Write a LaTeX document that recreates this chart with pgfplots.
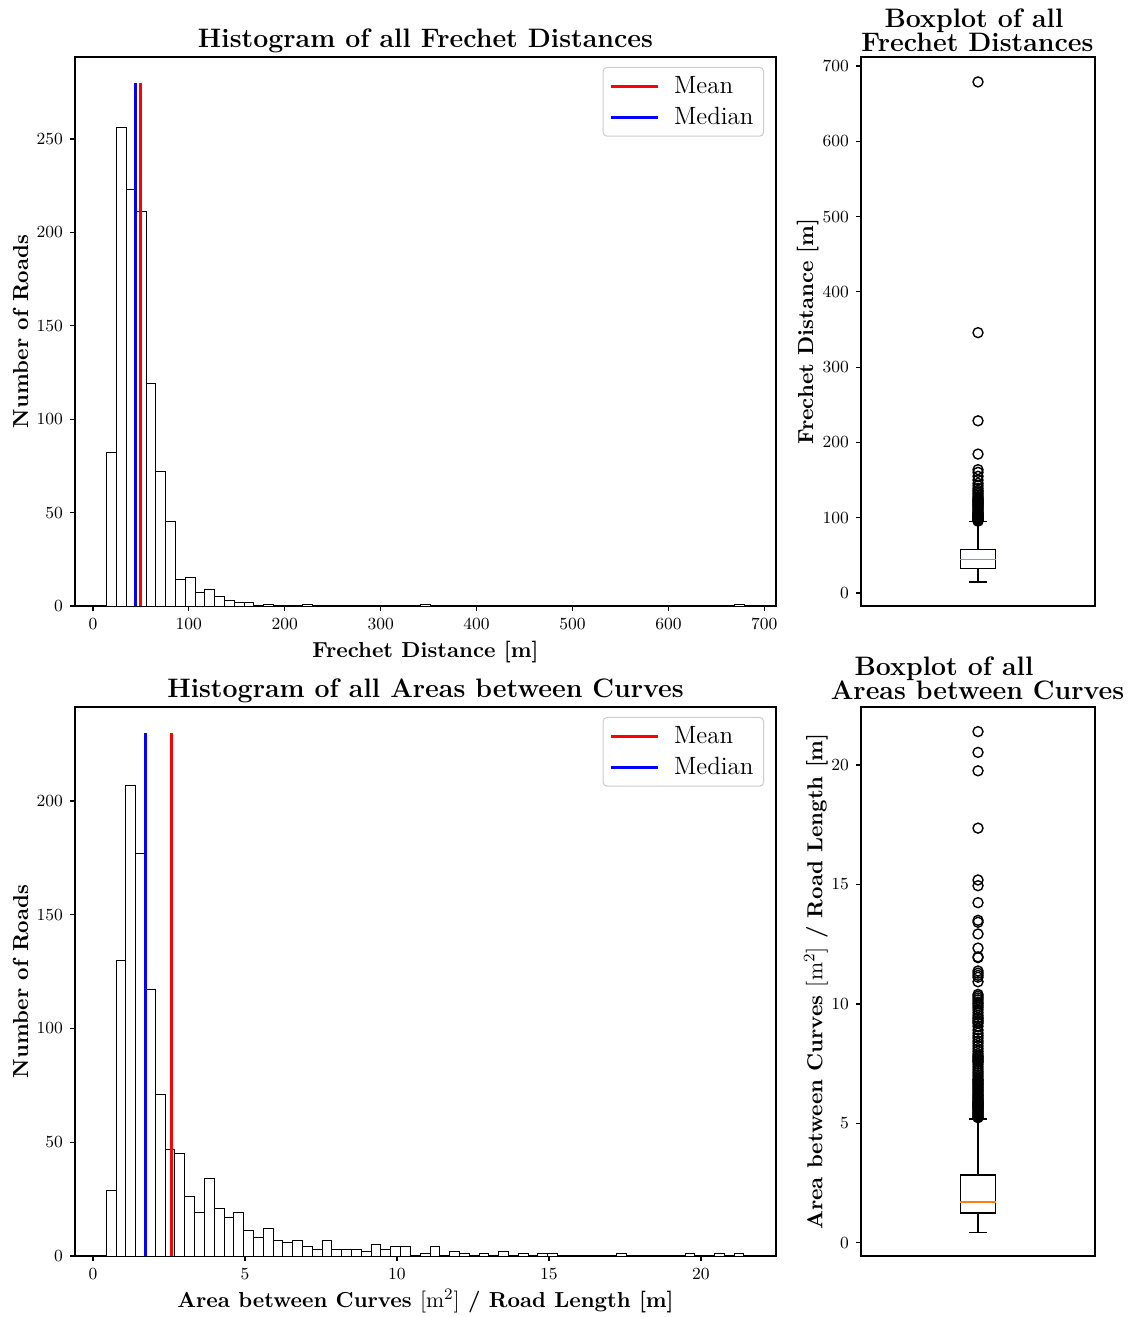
\documentclass[border=0pt]{standalone}
\usepackage{fontspec}
\usepackage{pgfplots}
\pgfplotsset{compat=1.18}
\definecolor{mplorange}{HTML}{FF7F0E}
\definecolor{legendgray}{HTML}{CCCCCC}
\newcommand{\tickfont}{\fontsize{8.5}{10}\selectfont}
\newcommand{\labelfont}{\fontsize{10.85}{13}\selectfont\bfseries}
\newcommand{\titlefont}{\fontsize{13.35}{16}\selectfont\bfseries}
\newcommand{\legfont}{\fontsize{12.5}{15}\selectfont}
\pgfplotsset{
  common/.style={
    scale only axis,
    anchor=south west,
    axis line style={line width=0.6pt},
    tick style={black, line width=0.6pt},
    tick align=outside,
    major tick length=2.5pt,
    xtick pos=left, ytick pos=left,
    tick label style={font=\tickfont},
    /pgf/number format/assume math mode=true,
    label style={font=\labelfont},
  },
  histleg/.style={
    legend style={at={(0.983,0.982)}, anchor=north east, draw=legendgray,
      rounded corners=2pt, line width=0.5pt, font=\legfont,
      inner xsep=3pt, inner ysep=2.5pt, row sep=1.2pt,
      /tikz/every odd column/.append style={column sep=5.5pt}},
    legend cell align=left,
    legend image code/.code={\draw[##1] (0pt,0pt) -- (23.5pt,0pt);},
  },
  boxline/.style={black, line width=0.75pt, forget plot},
  outl/.style={only marks, mark=o, mark size=2.5pt, mark options={black, line width=0.7pt}, forget plot},
}
\begin{document}
\begin{tikzpicture}
\path[use as bounding box] (0,0) rectangle (564.5pt,-658.5pt);

% ---------- Top-left histogram ----------
\begin{axis}[common, histleg, at={(37.5pt,-303pt)}, width=350.5pt, height=274.5pt,
  xmin=-18.7, xmax=712.2, ymin=0, ymax=293.9,
  xtick={0,100,...,700}, ytick={0,50,...,250},
  xlabel={Frechet Distance [m]}, ylabel={Number of Roads},
  xlabel style={at={(axis description cs:0.5,0)}, anchor=base, yshift=-25.5pt},
  ylabel style={at={(axis description cs:-0.067,0.5)}, anchor=base}]
\addplot[ybar, bar width=10.22, bar shift=0pt, draw=black, fill=white, line width=0.5pt, forget plot]
 coordinates {(19.71,82) (29.93,256) (40.15,223) (50.37,211) (60.59,119) (70.81,72) (81.03,45)
 (91.25,14) (101.47,15) (111.69,7) (121.91,9) (132.13,5) (142.35,3) (152.57,2) (162.79,2)
 (183.23,1) (224.11,1) (346.75,1) (673.79,1)};
\addplot[red, line width=1.5pt] coordinates {(49.4,0) (49.4,280)};
\addlegendentry{Mean}
\addplot[blue, line width=1.5pt] coordinates {(44.2,0) (44.2,280)};
\addlegendentry{Median}
\end{axis}

% ---------- Top-right boxplot ----------
\begin{axis}[common, at={(430.5pt,-303pt)}, width=117pt, height=274.5pt,
  xmin=0.5, xmax=1.5, ymin=-17.3, ymax=711.9, xtick=\empty, ytick={0,100,...,700},
  ylabel={Frechet Distance [m]},
  ylabel style={at={(axis description cs:-0.205,0.5)}, anchor=base}]
% box
\addplot[boxline] coordinates {(0.925,32.5) (1.075,32.5) (1.075,57.6) (0.925,57.6) (0.925,32.5)};
% median
\addplot[mplorange, line width=0.75pt, forget plot] coordinates {(0.925,44.3) (1.075,44.3)};
% whiskers
\addplot[boxline] coordinates {(1,32.5) (1,14.3)};
\addplot[boxline] coordinates {(1,57.6) (1,95.1)};
% caps
\addplot[boxline] coordinates {(0.9625,14.3) (1.0375,14.3)};
\addplot[boxline] coordinates {(0.9625,95.1) (1.0375,95.1)};
% outliers
\addplot[outl]
 coordinates {(1,95.5) (1,96.0)
 (1,96.8) (1,97.5) (1,98.1) (1,98.8) (1,99.4) (1,100.1) (1,100.8) (1,101.5) (1,102.1) (1,102.8)
 (1,103.5) (1,104.2) (1,104.9) (1,105.6) (1,106.2)
 (1,107.5) (1,109.0) (1,110.6) (1,112.1) (1,113.6) (1,115.0) (1,116.2)
 (1,117.4) (1,118.5) (1,119.6) (1,120.7) (1,121.8) (1,122.9) (1,124.0) (1,125.1) (1,126.3)
 (1,128.0) (1,130.1) (1,132.2) (1,134.3) (1,136.4)
 (1,139.0) (1,142.3) (1,145.6) (1,150.0) (1,155.0) (1,160.2) (1,163.8)
 (1,184.5) (1,228.7) (1,345.8) (1,678.8)};
\end{axis}

% ---------- Bottom-left histogram ----------
\begin{axis}[common, histleg, at={(37.5pt,-628pt)}, width=350.5pt, height=274.5pt,
  xmin=-0.59, xmax=22.47, ymin=0, ymax=241.3,
  xtick={0,5,...,20}, ytick={0,50,...,200},
  xlabel={Area between Curves $[\mathrm{m}^2]$ / Road Length [m]}, ylabel={Number of Roads},
  xlabel style={at={(axis description cs:0.5,0)}, anchor=base, yshift=-25.5pt},
  ylabel style={at={(axis description cs:-0.067,0.5)}, anchor=base}]
\addplot[ybar, bar width=0.3227, bar shift=0pt, draw=black, fill=white, line width=0.5pt, forget plot]
 coordinates {(0.601,29) (0.924,130) (1.247,207) (1.569,177) (1.892,117) (2.215,71) (2.538,47)
 (2.860,45) (3.183,26) (3.506,19) (3.828,34) (4.151,21) (4.474,17) (4.797,19) (5.119,11)
 (5.442,8) (5.765,12) (6.087,7) (6.410,6) (6.733,7) (7.055,4) (7.378,3) (7.701,7) (8.024,3)
 (8.346,3) (8.669,3) (8.992,2) (9.314,5) (9.637,3) (9.960,4) (10.282,4) (10.928,1) (11.251,4)
 (11.896,2) (12.219,1) (12.864,1) (13.509,2) (14.155,1) (14.800,1) (15.123,1) (17.382,1)
 (19.641,1) (20.609,1) (21.254,1)};
\addplot[red, line width=1.5pt] coordinates {(2.58,0) (2.58,230)};
\addlegendentry{Mean}
\addplot[blue, line width=1.5pt] coordinates {(1.72,0) (1.72,230)};
\addlegendentry{Median}
\end{axis}

% ---------- Bottom-right boxplot ----------
\begin{axis}[common, at={(430.5pt,-628pt)}, width=117pt, height=274.5pt,
  xmin=0.5, xmax=1.5, ymin=-0.55, ymax=22.43, xtick=\empty, ytick={0,5,...,20},
  ylabel={Area between Curves $[\mathrm{m}^2]$ / Road Length [m]},
  ylabel style={at={(axis description cs:-0.165,0.5)}, anchor=base}]
\addplot[boxline] coordinates {(0.925,1.25) (1.075,1.25) (1.075,2.84) (0.925,2.84) (0.925,1.25)};
\addplot[mplorange, line width=0.75pt, forget plot] coordinates {(0.925,1.71) (1.075,1.71)};
\addplot[boxline] coordinates {(1,1.25) (1,0.43)};
\addplot[boxline] coordinates {(1,2.84) (1,5.19)};
\addplot[boxline] coordinates {(0.9625,0.43) (1.0375,0.43)};
\addplot[boxline] coordinates {(0.9625,5.19) (1.0375,5.19)};
\addplot[outl]
 coordinates {(1,5.24) (1,5.27)
 (1,5.30) (1,5.34) (1,5.38) (1,5.42) (1,5.46) (1,5.50) (1,5.54) (1,5.58)
 (1,5.62) (1,5.64) (1,5.67) (1,5.70) (1,5.72) (1,5.75) (1,5.78) (1,5.81) (1,5.83) (1,5.86) (1,5.88) (1,5.91)
 (1,5.95) (1,6.00) (1,6.04) (1,6.09) (1,6.13) (1,6.18) (1,6.22)
 (1,6.28) (1,6.33) (1,6.39) (1,6.44) (1,6.49) (1,6.54)
 (1,6.60) (1,6.64) (1,6.69) (1,6.73) (1,6.78) (1,6.82) (1,6.86)
 (1,6.95) (1,7.03) (1,7.11) (1,7.19) (1,7.28) (1,7.38) (1,7.48)
 (1,7.56) (1,7.60) (1,7.65) (1,7.70) (1,7.74) (1,7.79) (1,7.84)
 (1,7.92) (1,8.02) (1,8.13) (1,8.24) (1,8.35) (1,8.45) (1,8.57) (1,8.67) (1,8.78) (1,8.91) (1,9.07)
 (1,9.19) (1,9.25) (1,9.31) (1,9.38) (1,9.44) (1,9.53) (1,9.64) (1,9.75)
 (1,9.85) (1,9.93) (1,10.01) (1,10.08) (1,10.17) (1,10.25) (1,10.33) (1,10.40)
 (1,10.93) (1,11.12) (1,11.20) (1,11.29) (1,11.38) (1,11.94) (1,11.97) (1,12.34) (1,12.93) (1,13.42) (1,13.50)
 (1,14.24) (1,14.95) (1,15.19) (1,17.36) (1,19.76) (1,20.53) (1,21.40)};
\end{axis}

% ---------- Titles ----------
\node[anchor=base, font=\titlefont, inner sep=0pt] at (212.75pt,-23.5pt) {Histogram of all Frechet Distances};
\node[anchor=base, font=\titlefont, inner sep=0pt] at (487pt,-13.5pt) {Boxplot of all};
\node[anchor=base, font=\titlefont, inner sep=0pt] at (488.75pt,-25.5pt) {Frechet Distances};
\node[anchor=base, font=\titlefont, inner sep=0pt] at (212.75pt,-348.5pt) {Histogram of all Areas between Curves};
\node[anchor=base, font=\titlefont, inner sep=0pt] at (472pt,-337.5pt) {Boxplot of all};
\node[anchor=base, font=\titlefont, inner sep=0pt] at (488.75pt,-349.75pt) {Areas between Curves};
\end{tikzpicture}
\end{document}
